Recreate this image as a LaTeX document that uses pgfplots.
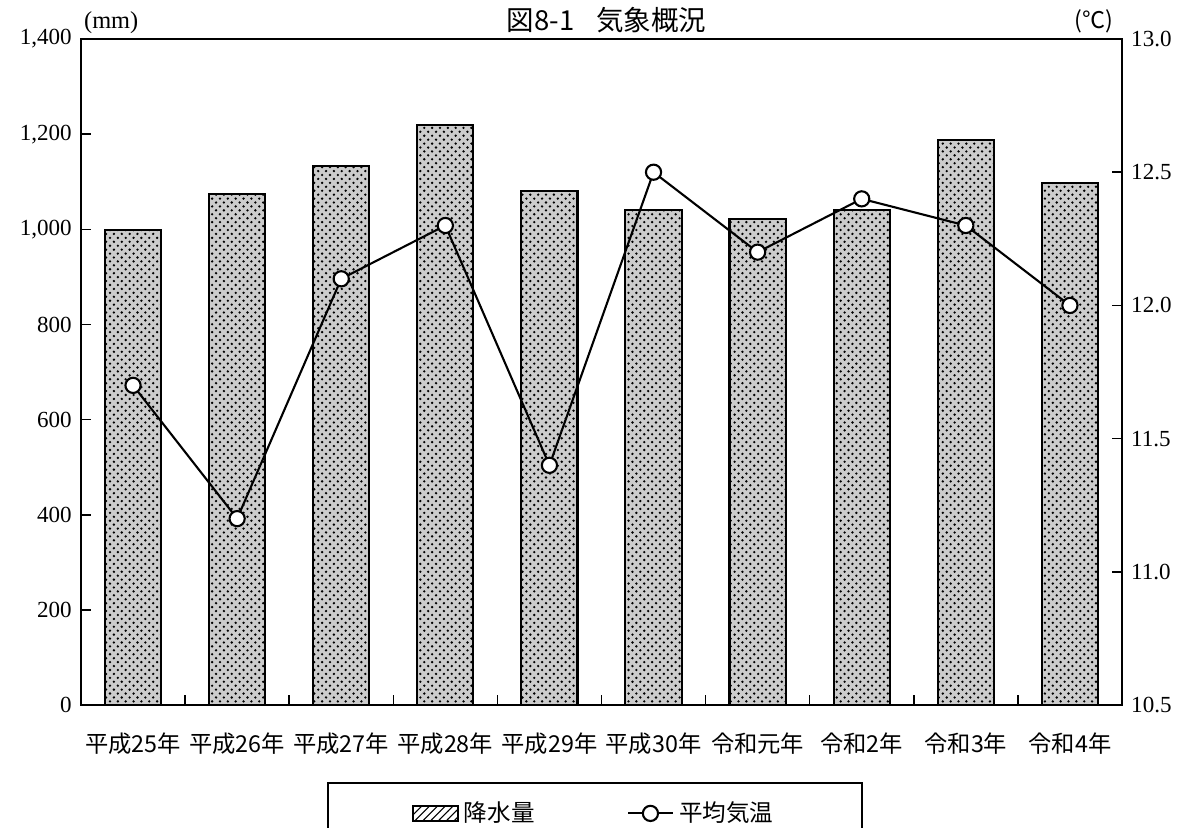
\documentclass[border=0pt]{standalone}
\usepackage{fontspec}
\setmainfont{Liberation Serif}
\newfontfamily\jp{Noto Sans CJK JP}
\usepackage{pgfplots}
\pgfplotsset{compat=1.18}
\usetikzlibrary{patterns}

\pgfplotstableread{
x rain temp
0 998 11.7
1 1074 11.2
2 1133 12.1
3 1219 12.3
4 1080 11.4
5 1040 12.5
6 1022 12.2
7 1040 12.4
8 1188 12.3
9 1097 12.0
}\weather

\begin{document}
\begin{tikzpicture}
  \pgfplotsset{
    common/.style={
      scale only axis, width=13.97cm, height=8.94cm,
      xmin=-0.5, xmax=9.5,
      axis line style={line width=0.8pt},
      tick style={black, line width=0.6pt},
      tick align=inside,
      major tick length=4pt,
      /pgf/number format/assume math mode=true,
      every tick label/.append style={font=\fontsize{8.8}{10}\selectfont},
    }
  }
  % precipitation bars, left axis
  \begin{axis}[common, name=ax1,
      ymin=0, ymax=1400, ytick={0,200,...,1400},
      ytick pos=left, xtick pos=bottom,
      yticklabel style={/pgf/number format/1000 sep={,}},
      xtick={-0.5,0.5,...,9.5},
      x tick label as interval,
      xticklabels={平成25年,平成26年,平成27年,平成28年,平成29年,平成30年,令和元年,令和2年,令和3年,令和4年},
      xticklabel style={font=\jp\fontsize{8.9}{10}\selectfont, yshift=-7pt},
    ]
    \addplot[ybar, bar width=0.54, draw=black, line width=0.8pt,
      fill=gray!40, postaction={pattern=crosshatch dots, pattern color=black}]
      table[x=x, y=rain] {\weather};
  \end{axis}
  % mean temperature, right axis
  \begin{axis}[common, at={(ax1.south west)}, anchor=south west,
      axis x line=none, axis y line*=right,
      ymin=10.5, ymax=13, ytick={10.5,11,...,13},
      yticklabel style={/pgf/number format/.cd, fixed, fixed zerofill, precision=1},
      legend columns=2,
      legend style={at={(0.494,-0.1156)}, anchor=north, draw=black, line width=0.8pt,
        font=\jp\fontsize{9}{10}\selectfont, inner xsep=1.12cm, inner ysep=5pt,
        /tikz/every even column/.append style={column sep=1.17cm}},
    ]
    \addlegendimage{area legend, draw=black, line width=0.8pt, pattern=north east lines}
    \addlegendentry{降水量}
    \addplot[black, line width=0.8pt, mark=*, mark size=2.9pt,
      mark options={fill=white, line width=0.8pt}]
      table[x=x, y=temp] {\weather};
    \addlegendentry{平均気温}
  \end{axis}
  \node[anchor=south, font=\jp\fontsize{10.5}{12}\selectfont, inner sep=2pt] at ([xshift=2pt]ax1.north) {図8-1\hspace{0.8em}気象概況};
  \node[anchor=south west, font=\fontsize{9.3}{10}\selectfont, inner sep=1pt] at ([yshift=1pt]ax1.north west) {(mm)};
  \node[anchor=south east, font=\jp\fontsize{8.8}{10}\selectfont, inner sep=1pt] at ([xshift=-2pt,yshift=1pt]ax1.north east) {(℃)};
  \pgfresetboundingbox
  \path[use as bounding box] ([xshift=-1.087cm,yshift=-1.637cm]ax1.south west) rectangle ([xshift=0.94cm,yshift=0.523cm]ax1.north east);
\end{tikzpicture}
\end{document}
